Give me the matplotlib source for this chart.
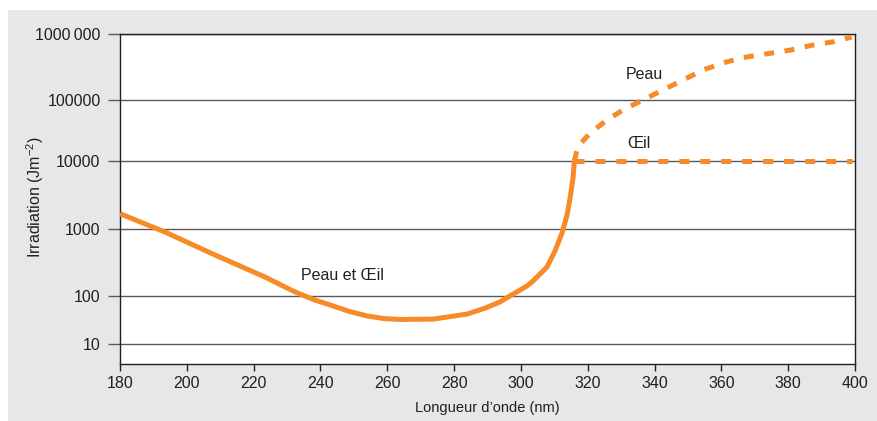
import numpy as np
import matplotlib
matplotlib.use("Agg")
import matplotlib.pyplot as plt
import matplotlib.patches as patches
from matplotlib.ticker import NullLocator

plt.rcParams['font.family'] = ['Liberation Sans', 'DejaVu Sans']
plt.rcParams['mathtext.fontset'] = 'custom'
plt.rcParams['mathtext.rm'] = 'Liberation Sans'
plt.rcParams['mathtext.it'] = 'Liberation Sans'
plt.rcParams['lines.scale_dashes'] = False

# Peau et Oeil (solid part), wavelength in nm, irradiation in J/m2
wl_both = [180, 193.5, 208.4, 223.4, 232.4, 238.4, 243.8, 248.5, 253.9, 258.8,
           263.8, 273.7, 283.9, 289.0, 293.7, 296.7, 301.8, 303.6, 307.8, 310.2,
           312.3, 313.8, 314.7, 315.6, 316.0]
val_both = [1680, 900, 410, 192, 115, 82, 62, 48, 38.5, 34,
            32.5, 33, 42, 55, 75, 100, 141, 167, 270, 470,
            870, 1600, 2800, 5600, 10000]

# Peau (dashed)
wl_skin = [316.0, 317, 320.7, 325.8, 330.6, 336.5, 342.5, 348.5, 354.5,
           361.7, 367.7, 374.6, 380.6, 387.4, 393.4, 399]
val_skin = [10000, 17000, 28800, 47000, 69000, 100000, 142000, 200000, 285000,
            380000, 450000, 510000, 570000, 680000, 760000, 900000]

# Oeil (dashed)
wl_eye = [316.0, 399]
val_eye = [10000, 10000]

xticks = [180, 200, 220, 240, 260, 280, 300, 320, 340, 360, 380, 400]
yticks = [10, 100, 1000, 10000, 100000, 1000000]
ytick_labels = ['10', '100', '1000', '10000', '100000', '1000\u2009000']

# the original y axis is log-like but the decades are not evenly spaced
LOG = [0.583, 1, 2, 3, 4, 5, 6]
POS = [0, 20, 68, 135, 203, 264, 330]

def fwd(y):
    y = np.clip(np.asarray(y, dtype=float), 1e-6, None)
    return np.interp(np.log10(y), LOG, POS)

def inv(p):
    return 10 ** np.interp(np.asarray(p, dtype=float), POS, LOG)

orange = '#f68b28'
grid_c = '#5a5a5a'
text_c = '#231f20'

W, H = 877, 421
fig = plt.figure(figsize=(W / 100, H / 100), dpi=100, facecolor='white')
fig.patches.append(patches.Rectangle((8 / W, 0), 1 - 8 / W, (H - 10) / H,
                                     transform=fig.transFigure,
                                     facecolor='#e6e7e8', edgecolor='none', zorder=-10))

ax = fig.add_axes([120 / W, (H - 364) / H, 735 / W, 330 / H])
ax.set_facecolor('white')
ax.set_yscale('function', functions=(fwd, inv))
ax.set_xlim(180, 400)
ax.set_ylim(10 ** 0.583, 1e6)

ax.plot(wl_both, val_both, color=orange, lw=3.6, solid_capstyle='butt',
        solid_joinstyle='round', zorder=3)
ax.plot(wl_skin, val_skin, color=orange, lw=3.6, dashes=(7.2, 7.6),
        dash_capstyle='butt', zorder=3)
ax.plot(wl_eye, val_eye, color=orange, lw=3.6, dashes=(7.2, 7.9),
        dash_capstyle='butt', zorder=3)

for v in yticks:
    ax.axhline(v, color=grid_c, lw=1.0, zorder=1)

ax.set_xticks(xticks)
ax.set_yticks(yticks)
ax.set_yticklabels(ytick_labels)
ax.yaxis.set_minor_locator(NullLocator())
ax.xaxis.set_minor_locator(NullLocator())
ax.tick_params(axis='y', length=8.5, width=1.0, color=grid_c, pad=5.5,
               labelsize=11.5, labelcolor=text_c)
ax.tick_params(axis='x', length=5, width=1.0, color='#231f20', pad=4,
               labelsize=11.5, labelcolor=text_c)
for s in ax.spines.values():
    s.set_color('#231f20')
    s.set_linewidth(1.0)

ax.set_xlabel('Longueur d\u2019onde (nm)', fontsize=10.5, color=text_c)
ax.xaxis.label.set_va('center')
ax.xaxis.set_label_coords(0.5, -(408 - 364) / 330)
ax.set_ylabel('Irradiation (Jm$^{-2}$)', fontsize=11.5, color=text_c)
ax.yaxis.label.set_va('center')
ax.yaxis.set_label_coords(-(120 - 35) / 735, (364 - 197) / 330)

ax.text(234.2, 200, 'Peau et \u0152il', fontsize=11.5, color=text_c, va='center', ha='left')
ax.text(331.4, 240000, 'Peau', fontsize=11.5, color=text_c, va='center', ha='left')
ax.text(331.7, 19000, '\u0152il', fontsize=11.5, color=text_c, va='center', ha='left')

fig.savefig('out.png', dpi=100, facecolor='white')
